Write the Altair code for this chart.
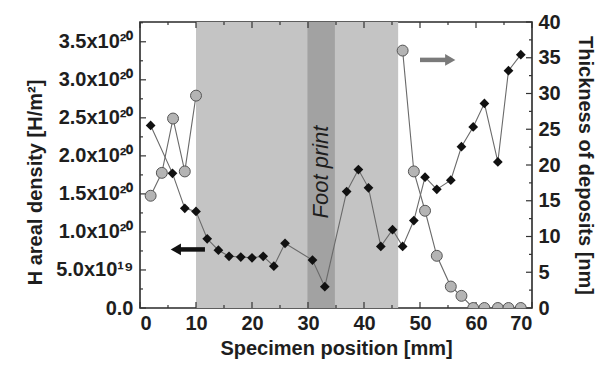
import altair as alt
import pandas as pd

# ---- data ----
# H areal density (black diamonds, left axis), in units of 1e20 H/m^2
pos_h = [1.9, 5.8, 8.0, 10.0, 12.0, 14.0, 15.9, 18.0, 20.0, 22.0, 23.9, 25.9, 30.8, 33.0,
         36.9, 39.0, 40.8, 43.0, 45.1, 46.9, 48.9, 50.9, 53.0, 55.5, 57.4, 59.5, 61.5,
         63.9, 65.8, 68.0]
h_density = [2.40, 1.77, 1.31, 1.27, 0.91, 0.76, 0.68, 0.67, 0.66, 0.68, 0.55, 0.85, 0.63,
             0.28, 1.53, 1.82, 1.58, 0.81, 1.03, 0.81, 1.15, 1.72, 1.56, 1.68, 2.12, 2.38,
             2.69, 1.92, 3.12, 3.33]

# Thickness of deposits (grey circles, right axis), nm
pos_t = [1.9, 3.9, 5.9, 8.0, 10.0, 46.9, 48.9, 50.9, 53.0, 55.5, 57.4, 59.5, 61.5, 63.9, 65.8, 68.0]
thickness = [15.7, 18.9, 26.5, 19.1, 29.7, 36.0, 19.1, 13.6, 7.3, 3.0, 1.7, 0, 0, 0, 0, 0]
t_segment = [1, 1, 1, 1, 1, 2, 2, 2, 2, 2, 2, 2, 2, 2, 2, 2]

# shaded zones
zone_start = [10.0, 29.9]
zone_end = [46.1, 34.8]
zone_kind = ["zone", "foot print"]
zone_colors = ["#c4c4c4", "#a2a2a2"]

# annotations
foot_label = ["Foot print"]
foot_x = [32.4]
left_arrow_x = [7.0, 11.6]
left_arrow_head_x = [6.4]
left_arrow_y = [0.77]
right_arrow_x = [50.0, 54.8]
right_arrow_head_x = [55.4]
right_arrow_y = [34.7]

# axes
x_ticks = [0, 10, 20, 30, 40, 50, 60, 70]
x_minor = [5, 15, 25, 35, 45, 55, 65]
left_ticks = [0, 0.5, 1.0, 1.5, 2.0, 2.5, 3.0, 3.5]
left_minor = [0.25, 0.75, 1.25, 1.75, 2.25, 2.75, 3.25, 3.75]
left_labels = ["0.0", "5.0x10¹⁹", "1.0x10²⁰", "1.5x10²⁰", "2.0x10²⁰", "2.5x10²⁰",
               "3.0x10²⁰", "3.5x10²⁰"]
right_ticks = [0, 5, 10, 15, 20, 25, 30, 35, 40]
right_minor = [2.5, 7.5, 12.5, 17.5, 22.5, 27.5, 32.5, 37.5]

W, H = 392, 286
FONT = "Liberation Sans"
INK = "#1e1e1e"

df_h = pd.DataFrame({"pos": pos_h, "h": h_density})
df_t = pd.DataFrame({"pos": pos_t, "t": thickness, "seg": t_segment})
df_z = pd.DataFrame({"start": zone_start, "end": zone_end, "kind": zone_kind})

xs = alt.Scale(domain=[0, 70], nice=False, zero=False)
ls = alt.Scale(domain=[0, 3.76], nice=False)
rs = alt.Scale(domain=[0, 40], nice=False)

xaxis = alt.Axis(values=x_ticks, tickSize=0, domain=False, grid=False, labelFontSize=20,
                 labelFont=FONT, labelFontWeight="bold", labelColor=INK, labelPadding=5,
                 title="Specimen position [mm]", titleFont=FONT, titleFontSize=20,
                 titleFontWeight="bold", titleColor=INK, titlePadding=5)

lab_expr = "[" + ",".join("'%s'" % s for s in left_labels) + "][round(datum.value*2)]"
laxis = alt.Axis(values=left_ticks, tickSize=0, domain=False, grid=False, labelFontSize=20,
                 labelFont=FONT, labelFontWeight="bold", labelColor=INK, labelPadding=7,
                 labelExpr=lab_expr, orient="left",
                 title="H areal density [H/m²]", titleFont=FONT, titleFontSize=20,
                 titleFontWeight="bold", titleColor=INK, titlePadding=10, titleY=160)
raxis = alt.Axis(values=right_ticks, tickSize=0, domain=False, grid=False, labelFontSize=20,
                 labelFont=FONT, labelFontWeight="bold", labelColor=INK, labelPadding=6,
                 orient="right", title="Thickness of deposits [nm]", titleFont=FONT,
                 titleFontSize=20, titleFontWeight="bold", titleColor=INK, titlePadding=14)


def X(f):
    return alt.X(f, type="quantitative", scale=xs, axis=xaxis)


def YL(f, axis=None):
    return alt.Y(f, type="quantitative", scale=ls, axis=axis)


def YR(f, axis=None):
    return alt.Y(f, type="quantitative", scale=rs, axis=axis)


zones = alt.Chart(df_z).mark_rect().encode(
    x=X("start"), x2="end", y=alt.value(0), y2=alt.value(H),
    color=alt.Color("kind:N", scale=alt.Scale(domain=zone_kind, range=zone_colors), legend=None),
)

foot = alt.Chart(pd.DataFrame({"x": foot_x, "label": foot_label})).mark_text(
    angle=270, font=FONT, fontSize=22, fontStyle="italic", color=INK,
    align="center", baseline="middle"
).encode(x=X("x"), y=alt.value(150), text="label:N")

tick_color = "#333"
xt_major = pd.DataFrame({"v": x_ticks})
xt_minor = pd.DataFrame({"v": x_minor})
x_tick_layers = [
    alt.Chart(xt_major).mark_rule(color=tick_color, strokeWidth=1.2).encode(x=X("v"), y=alt.value(H), y2=alt.value(H - 6)),
    alt.Chart(xt_minor).mark_rule(color=tick_color, strokeWidth=1.2).encode(x=X("v"), y=alt.value(H), y2=alt.value(H - 3)),
    alt.Chart(xt_major).mark_rule(color=tick_color, strokeWidth=1.2).encode(x=X("v"), y=alt.value(0), y2=alt.value(6)),
    alt.Chart(xt_minor).mark_rule(color=tick_color, strokeWidth=1.2).encode(x=X("v"), y=alt.value(0), y2=alt.value(3)),
]

lt_major = pd.DataFrame({"v": left_ticks})
lt_minor = pd.DataFrame({"v": left_minor})
rt_major = pd.DataFrame({"v": right_ticks})
rt_minor = pd.DataFrame({"v": right_minor})

left_tick_layers = [
    alt.Chart(lt_major).mark_rule(color=tick_color, strokeWidth=1.2).encode(y=YL("v"), x=alt.value(0), x2=alt.value(6)),
    alt.Chart(lt_minor).mark_rule(color=tick_color, strokeWidth=1.2).encode(y=YL("v"), x=alt.value(0), x2=alt.value(3)),
]
right_tick_layers = [
    alt.Chart(rt_major).mark_rule(color=tick_color, strokeWidth=1.2).encode(y=YR("v"), x=alt.value(W), x2=alt.value(W - 6)),
    alt.Chart(rt_minor).mark_rule(color=tick_color, strokeWidth=1.2).encode(y=YR("v"), x=alt.value(W), x2=alt.value(W - 3)),
]

h_line = alt.Chart(df_h).mark_line(color="#6a6a6a", strokeWidth=1.1).encode(
    x=X("pos"), y=YL("h", laxis))
h_pts = alt.Chart(df_h).mark_point(shape="diamond", filled=True, size=95, color="#111",
                                   opacity=1).encode(x=X("pos"), y=YL("h"))

t_line = alt.Chart(df_t).mark_line(color="#6a6a6a", strokeWidth=1.1).encode(
    x=X("pos"), y=YR("t", raxis), detail="seg:N")
t_pts = alt.Chart(df_t).mark_point(shape="circle", filled=True, size=120, fill="#b4b4b4",
                                   stroke="#555", strokeWidth=1, opacity=1, clip=True).encode(
    x=X("pos"), y=YR("t"))

la = pd.DataFrame({"x": [left_arrow_x[0]], "x2": [left_arrow_x[1]], "y": left_arrow_y})
la_head = pd.DataFrame({"x": left_arrow_head_x, "y": left_arrow_y})
ra = pd.DataFrame({"x": [right_arrow_x[0]], "x2": [right_arrow_x[1]], "y": right_arrow_y})
ra_head = pd.DataFrame({"x": right_arrow_head_x, "y": right_arrow_y})

la_shaft = alt.Chart(la).mark_rule(color="#111", strokeWidth=4.5).encode(x=X("x"), x2="x2", y=YL("y"))
la_tip = alt.Chart(la_head).mark_point(shape="triangle-left", filled=True, size=140, color="#111",
                                       opacity=1).encode(x=X("x"), y=YL("y"))
ra_shaft = alt.Chart(ra).mark_rule(color="#7a7a7a", strokeWidth=4.5).encode(x=X("x"), x2="x2", y=YR("y"))
ra_tip = alt.Chart(ra_head).mark_point(shape="triangle-right", filled=True, size=140, color="#7a7a7a",
                                       opacity=1).encode(x=X("x"), y=YR("y"))

layers = ([zones, foot] + x_tick_layers + left_tick_layers + right_tick_layers +
          [h_line, t_line, h_pts, t_pts, la_shaft, la_tip, ra_shaft, ra_tip])

chart = alt.layer(*layers).resolve_scale(y="independent").properties(
    width=W, height=H,
    autosize=alt.AutoSizeParams(type="none"),
    padding={"left": 132, "top": 14, "right": 74, "bottom": 52},
    background="white",
).configure_view(stroke="#2a2a2a", strokeWidth=1.6)

chart.save("out.html", embed_options={"renderer": "svg", "actions": False})
